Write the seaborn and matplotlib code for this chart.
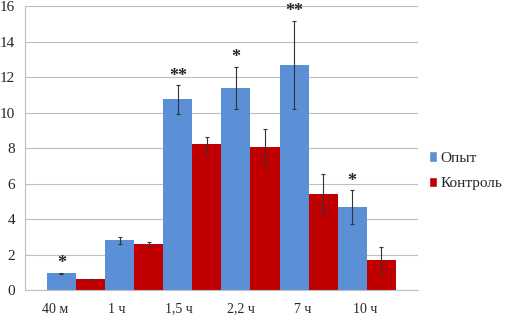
import numpy
import pandas
import matplotlib
matplotlib.use("Agg")
import matplotlib.pyplot as plt
import seaborn
from matplotlib.patches import Patch

# данные
kategorii = ["40 м", "1 ч", "1,5 ч", "2,2 ч", "7 ч", "10 ч"]
opyt = [0.94, 2.82, 10.74, 11.38, 12.68, 4.68]
opyt_err = [0.05, 0.2, 0.8, 1.2, 2.5, 0.95]
kontrol = [0.6, 2.6, 8.22, 8.07, 5.43, 1.67]
kontrol_err = [0.04, 0.12, 0.42, 1.0, 1.1, 0.75]
zvezdy = ["*", "", "**", "*", "**", "*"]

seaborn.set_style("white")
plt.rcParams['font.family'] = ['Liberation Serif', 'DejaVu Serif']

df = pandas.DataFrame({
    "kat": kategorii * 2,
    "val": opyt + kontrol,
    "grupa": ["Опыт"] * len(kategorii) + ["Контроль"] * len(kategorii),
})

cores = {"Опыт": "#5B8FD6", "Контроль": "#C00000"}

fig = plt.figure(figsize=(5.06, 3.22), dpi=100)
ax = fig.add_axes([0.049, 0.099, 0.777, 0.882])

seaborn.barplot(data=df, x="kat", y="val", hue="grupa", palette=cores,
                width=1.0, gap=0, saturation=1, errorbar=None, legend=False,
                linewidth=0, ax=ax)

# barras de erro e estrelas
erros = [opyt_err, kontrol_err]
for cont, err in zip(ax.containers, erros):
    xs = [p.get_x() + p.get_width() / 2 for p in cont.patches]
    hs = [p.get_height() for p in cont.patches]
    ax.errorbar(xs, hs, yerr=err, fmt="none", ecolor="#333333", elinewidth=0.8,
                capsize=1.5, capthick=0.8)

cont0 = ax.containers[0]
for p, e, s in zip(cont0.patches, opyt_err, zvezdy):
    if s:
        ax.text(p.get_x() + p.get_width() / 2, p.get_height() + e + 0.02, s,
                ha="center", va="bottom", fontsize=13, fontweight="bold")

ax.set_ylim(0, 16)
ax.set_xlim(-0.88, 5.88)
ax.set_yticks(numpy.arange(0, 17, 2))
ax.yaxis.grid(True, color="#BFBFBF", linewidth=0.8)
ax.set_axisbelow(True)
for s in ["top", "right"]:
    ax.spines[s].set_visible(False)
ax.spines["left"].set_color("#BFBFBF")
ax.spines["bottom"].set_color("#BFBFBF")

# rotulos do eixo x deslocados como no original
pos = [-0.36 + i * 1.065 for i in range(len(kategorii))]
ax.set_xticks(pos)
ax.set_xticklabels(kategorii)
ax.tick_params(axis="x", length=0, pad=9, labelsize=10)
ax.tick_params(axis="y", length=0, pad=7, labelsize=11)
ax.set_xlabel("")
ax.set_ylabel("")

handles = [Patch(facecolor=cores["Опыт"]), Patch(facecolor=cores["Контроль"])]
ax.legend(handles, ["Опыт", "Контроль"], loc="center left", bbox_to_anchor=(1.0, 0.42),
          frameon=False, fontsize=11, handlelength=0.55, handleheight=0.7,
          handletextpad=0.25, labelspacing=0.75, borderpad=0.2)

fig.savefig("out.png", dpi=100)
